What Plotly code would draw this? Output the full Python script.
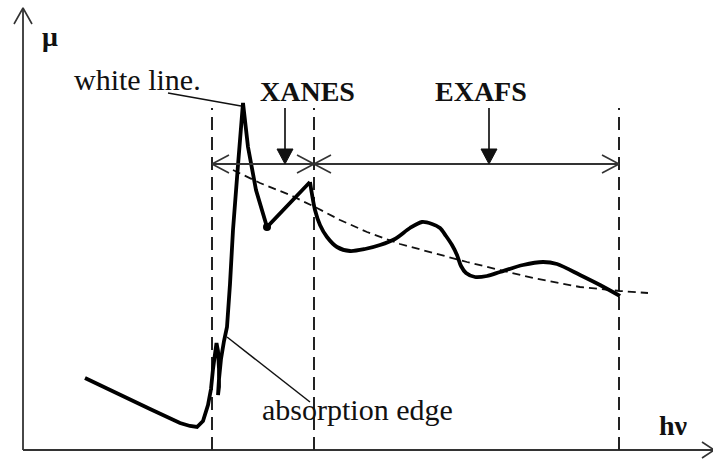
import plotly.graph_objects as go

# Absorption spectrum μ(hν), schematic, in arbitrary units
edge_x = [85, 120, 150, 180, 190, 197, 203, 208, 211, 213, 215, 216.5, 218, 219, 219, 218,
          219, 221, 224, 227, 230, 233, 238, 243, 248, 256, 267, 290, 310]
edge_mu = [81, 64, 50, 36, 33, 32, 38, 54, 70, 90, 108, 116, 108, 90, 72, 64,
           80, 100, 118, 132, 175, 229, 294, 356, 312, 269, 232, 256, 277]

# Oscillating post-edge region (smooth)
exafs_x = [310, 315, 320, 327, 337, 350, 365, 380, 395, 410, 422, 432, 440, 446, 452,
           457, 461, 466, 475, 487, 500, 523, 543, 557, 580, 600, 620]
exafs_mu = [277, 249, 234, 222, 212, 208, 210, 214, 220, 231, 237, 235, 231, 223, 214,
            204, 193, 186, 182, 183, 187, 194, 197, 195, 184, 174, 163]

# Smooth atomic background
bg_x = [233, 260, 290, 317, 340, 367, 400, 433, 467, 500, 533, 580, 620, 648]
bg_mu = [289, 276, 264, 251, 239, 227, 215, 206, 197, 189, 181, 172, 168, 166]

# Region boundaries on the energy axis: edge start, XANES/EXAFS, EXAFS end
bounds = [212, 314, 619]
region_names = ["XANES", "EXAFS"]
region_pointer_x = [285, 489]

# Axis extent
x_axis_end = 714
mu_axis_end = 451
origin = (23, 9)

# Layout constants
span_mu = 295          # level of the double-headed region arrows
bound_top = 351        # upper end of the dashed boundaries

fig = go.Figure()

def add_line(xs, ys, width=1.5, color="#222", dash=None, shape="linear", smoothing=1):
    line = dict(color=color, width=width, dash=dash, shape=shape)
    if shape == "spline":
        line["smoothing"] = smoothing
    fig.add_trace(go.Scatter(x=xs, y=ys, mode="lines", line=line,
                             hoverinfo="skip", showlegend=False))

def open_head(tip, dx, dy, length=17, half=9):
    # V-shaped arrowhead pointing along (dx, dy)
    tx, ty = tip
    px, py = -dy, dx
    bx, by = tx - dx * length, ty - dy * length
    return ([bx + px * half, tx, bx - px * half], [by + py * half, ty, by - py * half])

def filled_head(tip, dx, dy, length=15, half=8):
    tx, ty = tip
    px, py = -dy, dx
    bx, by = tx - dx * length, ty - dy * length
    xs = [bx + px * half, tx, bx - px * half, bx + px * half]
    ys = [by + py * half, ty, by - py * half, by + py * half]
    fig.add_trace(go.Scatter(x=xs, y=ys, mode="lines", fill="toself",
                             fillcolor="#111", line=dict(color="#111", width=1),
                             hoverinfo="skip", showlegend=False))

# Coordinate axes with open arrowheads
ox, oy = origin
add_line([ox, x_axis_end], [oy, oy], width=1.8, color="#333")
add_line([ox, ox], [oy, mu_axis_end], width=1.8, color="#333")
hx, hy = open_head((x_axis_end, oy), 1, 0, length=12, half=8)
add_line(hx, hy, width=1.6, color="#333")
hx, hy = open_head((ox, mu_axis_end), 0, 1, length=16, half=9)
add_line(hx, hy, width=1.6, color="#333")

# Dashed region boundaries
for b in bounds:
    add_line([b, b], [oy, bound_top], width=2, color="#222", dash="13px,7px")

# Background
add_line(bg_x, bg_mu, width=1.8, color="#111", dash="8px,5px")

# Spectrum
add_line(edge_x, edge_mu, width=3.8, color="#000")
add_line(exafs_x, exafs_mu, width=3.8, color="#000", shape="spline", smoothing=0.8)
fig.add_trace(go.Scatter(x=[267], y=[232], mode="markers",
                         marker=dict(color="#000", size=8),
                         hoverinfo="skip", showlegend=False))

# Double-headed region arrows
for a, b in zip(bounds[:-1], bounds[1:]):
    add_line([a, b], [span_mu, span_mu], width=1.8, color="#333")
    hx, hy = open_head((a, span_mu), -1, 0)
    add_line(hx, hy, width=1.6, color="#333")
    hx, hy = open_head((b, span_mu), 1, 0)
    add_line(hx, hy, width=1.6, color="#333")

# Pointers from the region names
for px in region_pointer_x:
    add_line([px, px], [bound_top, span_mu + 10], width=1.8, color="#222")
    filled_head((px, span_mu), 0, -1)

# Leader lines for the annotations
add_line([168, 241], [366, 353], width=1.5, color="#111")
add_line([227, 310], [122, 57], width=1.5, color="#111")

serif = "Liberation Serif, Times New Roman, serif"
texts = [
    dict(x=137, y=380, text="white line.", size=30, bold=False),
    dict(x=357, y=50, text="absorption edge", size=30, bold=False),
    dict(x=region_pointer_x[0] + 22, y=368, text=region_names[0], size=28, bold=True),
    dict(x=region_pointer_x[1] - 8, y=368, text=region_names[1], size=28, bold=True),
    dict(x=50, y=423, text="μ", size=28, bold=True),
    dict(x=673, y=34, text="hν", size=28, bold=True),
]
for t in texts:
    label = f"<b>{t['text']}</b>" if t["bold"] else t["text"]
    fig.add_annotation(x=t["x"], y=t["y"], text=label, showarrow=False,
                       xanchor="center", yanchor="middle",
                       font=dict(family=serif, size=t["size"], color="#111"))

fig.update_layout(
    width=713, height=459, autosize=False,
    margin=dict(l=0, r=0, t=0, b=0),
    paper_bgcolor="white", plot_bgcolor="white",
    xaxis=dict(range=[0, 713], visible=False, fixedrange=True),
    yaxis=dict(range=[0, 459], visible=False, fixedrange=True),
)

fig.write_html("out.html")
